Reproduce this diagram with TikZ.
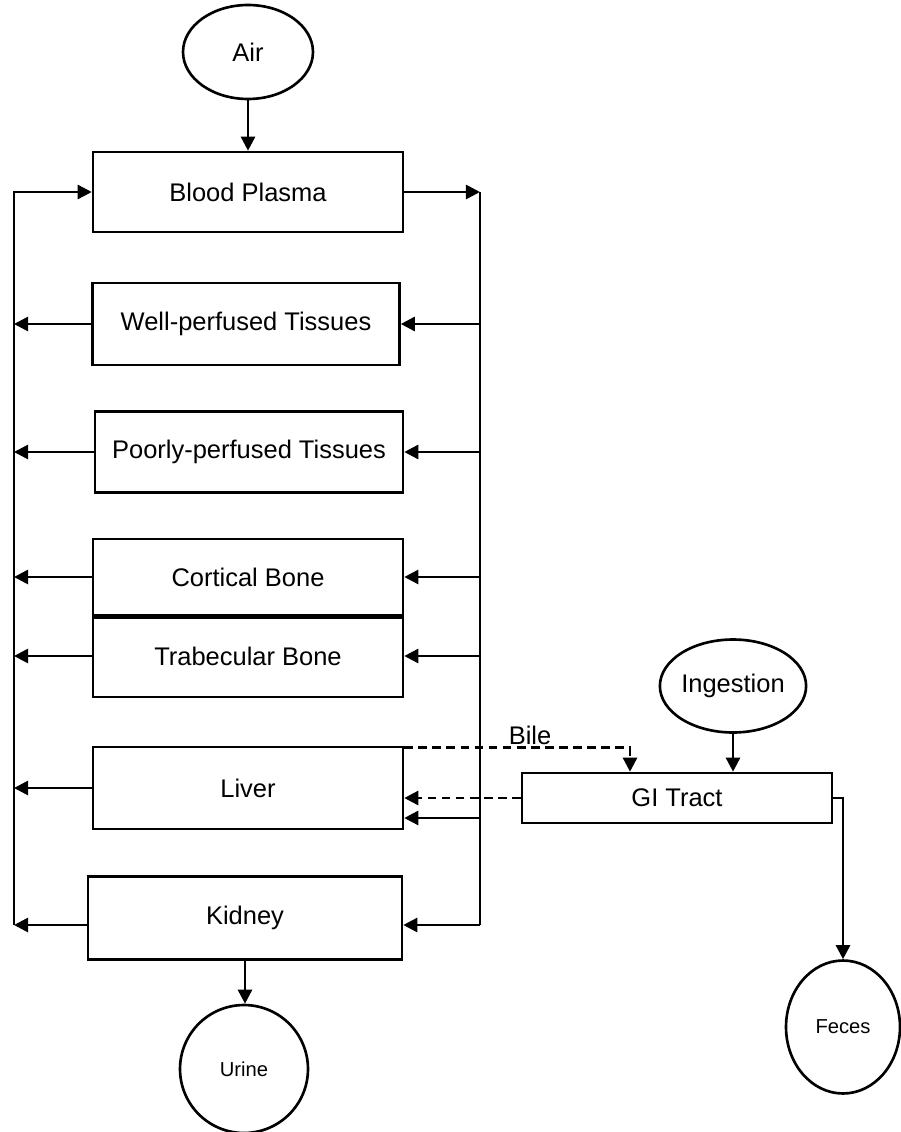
\documentclass[tikz,border=0pt]{standalone}
\usepackage{fontspec}
\setmainfont{Liberation Sans}
\usetikzlibrary{arrows.meta,shapes.geometric}

\begin{document}
\begin{tikzpicture}[x=0.02cm,y=-0.02cm,
    box/.style={draw,line width=1.5pt,minimum width=6.2cm,inner sep=0pt,font=\fontsize{14.5}{17}\selectfont},
    oval/.style={draw,ellipse,line width=1.5pt,inner sep=0pt,font=\fontsize{14.5}{17}\selectfont},
    small/.style={font=\fontsize{11.5}{14}\selectfont},
    flow/.style={line width=1.5pt,-{Triangle[length=8pt,width=8pt]}},
    bileflow/.style={flow,dash pattern=on 5pt off 3pt}]
            \useasboundingbox (0,0) rectangle (900,1132);

            \node[oval,minimum width=2.6cm,minimum height=1.88cm] (air) at (248,52) {Air};
            \node[box,minimum height=1.6cm] (plasma) at (248,192) {Blood Plasma};
            \node[box,minimum width=6.14cm,minimum height=1.64cm] (well) at (246,324) {Well-perfused Tissues};
            \node[box,minimum width=6.16cm,minimum height=1.62cm] (poor) at (249,452) {Poorly-perfused Tissues};
            \node[box,minimum height=1.52cm] (cortical) at (248,577) {Cortical Bone};
            \node[box,minimum height=1.64cm] (trabec) at (248,656) {Trabecular Bone};
            \node[box,minimum height=1.64cm] (liver) at (248,788) {Liver};
            \node[box,minimum width=6.28cm,minimum height=1.66cm] (kidney) at (245,918) {Kidney};
            \node[oval,minimum width=2.88cm,minimum height=1.86cm] (ingest) at (733,686) {Ingestion};
            \node[box,minimum height=1cm] (gi) at (677,798) {GI Tract};
            \node[oval,small,minimum width=2.56cm,minimum height=2.56cm] (urine) at (244,1069) {Urine};
            \node[oval,small,minimum width=2.28cm,minimum height=2.66cm] (feces) at (843,1027) {Feces};
            \node[font=\fontsize{14.5}{17}\selectfont] (bile) at (530,735) {Bile};

            \coordinate (lt) at (14,192);
            \coordinate (lb) at (14,925);
            \coordinate (rt) at (480,192);
            \coordinate (rb) at (480,925);
            \coordinate (lvin) at ([yshift=-0.6cm]liver.east);
            \coordinate (bilein) at ([yshift=-0.04cm]liver.north east);

            % blood loop
            \draw[flow] (air.south) -- (plasma.north);
            \draw[flow] (plasma.east) -- (rt);
            \draw[line width=1.5pt] (rt) -- (rb);
            \draw[flow] (lb) -- (lt) -- (plasma.west);

            \draw[flow] (rt |- well.east) -- (well.east);
            \draw[flow] (rt |- poor.east) -- (poor.east);
            \draw[flow] (rt |- cortical.east) -- (cortical.east);
            \draw[flow] (rt |- trabec.east) -- (trabec.east);
            \draw[flow] (lvin -| rt) -- (lvin);
            \draw[flow] (rb) -- (kidney.east |- rb);

            \draw[flow] (well.west) -- (lt |- well.west);
            \draw[flow] (poor.west) -- (lt |- poor.west);
            \draw[flow] (cortical.west) -- (lt |- cortical.west);
            \draw[flow] (trabec.west) -- (lt |- trabec.west);
            \draw[flow] (liver.west) -- (lt |- liver.west);
            \draw[flow] (kidney.west |- lb) -- (lb);

            \draw[line width=3pt] (cortical.south west) -- (cortical.south east);

            % gut
            \draw[bileflow] (bilein) -| ([xshift=-0.94cm]gi.north);
            \draw[bileflow] (gi.west) -- (gi.west -| liver.east);
            \draw[flow] (ingest.south) -- (ingest.south |- gi.north);
            \draw[flow] (gi.east) -| (feces.north);
            \draw[flow] (kidney.south) -- (kidney.south |- urine.north);
        \end{tikzpicture}
\end{document}
